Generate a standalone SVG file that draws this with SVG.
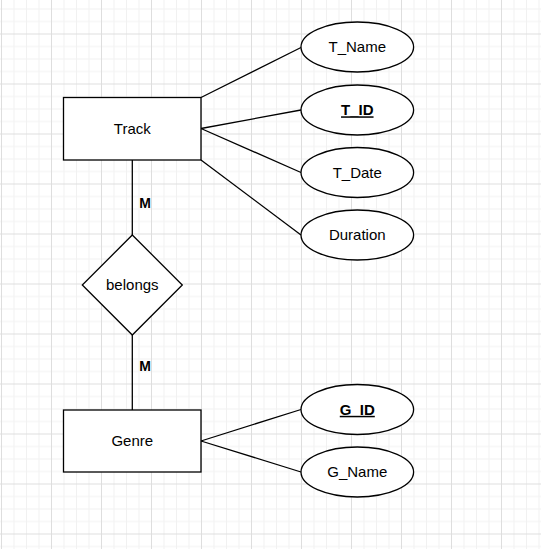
<svg xmlns="http://www.w3.org/2000/svg" width="541" height="549" viewBox="0 0 541 549">
  <defs>
    <pattern id="grid" x="1" y="33.5" width="50" height="50" patternUnits="userSpaceOnUse">
      <path d="M13 0V50M25.5 0V50M38 0V50M0 13H50M0 25.5H50M0 38H50" stroke="#f1f1f1" stroke-width="1" fill="none"/>
      <path d="M0.5 0V50M0 0.5H50" stroke="#dedede" stroke-width="1" fill="none"/>
    </pattern>
  </defs>
  <style>
    .shape { fill: #ffffff; stroke: #000000; stroke-width: 1.3; }
    .edge { stroke: #000000; stroke-width: 1.3; fill: none; }
    .label { font-family: "Liberation Sans", Arial, sans-serif; font-size: 15px; fill: #000000; text-anchor: middle; }
    .key { font-weight: bold; text-decoration: underline; }
    .card { font-family: "Liberation Sans", Arial, sans-serif; font-size: 14px; font-weight: bold; fill: #000000; text-anchor: middle; }
  </style>
  <rect x="0" y="0" width="541" height="549" fill="#ffffff"/>
  <rect x="0" y="0" width="541" height="549" fill="url(#grid)"/>

  <g id="connectors">
    <line class="edge" x1="201" y1="97.5" x2="301" y2="47.5"/>
    <line class="edge" x1="201" y1="128.5" x2="301" y2="110"/>
    <line class="edge" x1="201" y1="128.5" x2="301" y2="172.5"/>
    <line class="edge" x1="201" y1="160" x2="301" y2="235"/>
    <line class="edge" x1="132.3" y1="160" x2="132.3" y2="235"/>
    <line class="edge" x1="132.3" y1="335" x2="132.3" y2="410"/>
    <line class="edge" x1="201" y1="441" x2="301" y2="409.5"/>
    <line class="edge" x1="201" y1="441" x2="301" y2="472"/>
    <text class="card" x="145" y="207.5">M</text>
    <text class="card" x="145" y="370.5">M</text>
  </g>

  <g id="track">
    <rect class="shape" x="63.5" y="97.5" width="137.5" height="62.5"/>
    <text class="label" x="132.3" y="134">Track</text>
  </g>
  <g id="genre">
    <rect class="shape" x="63.5" y="410" width="137.5" height="62"/>
    <text class="label" x="132.3" y="446.3">Genre</text>
  </g>
  <g id="belongs">
    <polygon class="shape" points="132.3,235 182.3,285 132.3,335 82.3,285"/>
    <text class="label" x="132.3" y="290.3">belongs</text>
  </g>
  <g id="t_name">
    <ellipse class="shape" cx="357.3" cy="47" rx="56.3" ry="25"/>
    <text class="label" x="357.3" y="52.3">T_Name</text>
  </g>
  <g id="t_id">
    <ellipse class="shape" cx="357.3" cy="110" rx="56.3" ry="25"/>
    <text class="label key" x="357.3" y="115.3">T_ID</text>
  </g>
  <g id="t_date">
    <ellipse class="shape" cx="357.3" cy="172.5" rx="56.3" ry="25"/>
    <text class="label" x="357.3" y="177.8">T_Date</text>
  </g>
  <g id="duration">
    <ellipse class="shape" cx="357.3" cy="235" rx="56.3" ry="25"/>
    <text class="label" x="357.3" y="240.3">Duration</text>
  </g>
  <g id="g_id">
    <ellipse class="shape" cx="357.3" cy="409.5" rx="56.3" ry="25"/>
    <text class="label key" x="357.3" y="414.8">G_ID</text>
  </g>
  <g id="g_name">
    <ellipse class="shape" cx="357.3" cy="472" rx="56.3" ry="25"/>
    <text class="label" x="357.3" y="477.3">G_Name</text>
  </g>
</svg>
